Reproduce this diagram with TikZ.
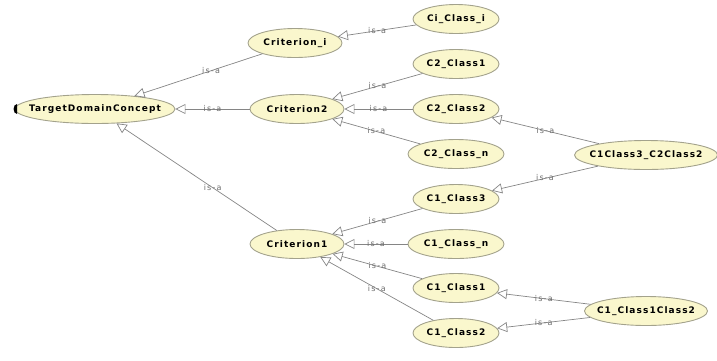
\documentclass[tikz,border=0pt]{standalone}
\usepackage{fontspec}
\setmainfont{DejaVu Sans}
\newfontfamily\owlfont[LetterSpace=12]{DejaVu Sans}
\newfontfamily\isafont[LetterSpace=15]{DejaVu Sans}
\usetikzlibrary{arrows.meta,shapes.geometric}
\definecolor{clsfill}{HTML}{FAF7CD}
\definecolor{clsline}{HTML}{A3A28C}
\definecolor{edgegray}{HTML}{858585}
\definecolor{labgray}{HTML}{6E6E6E}
\newcommand{\cname}[1]{\makebox[0pt]{\owlfont\bfseries #1}}

\begin{document}
\begin{tikzpicture}[x=1pt,y=-1pt,
  cls/.style={ellipse,draw=clsline,fill=clsfill,line width=0.9pt,inner sep=0pt,
    minimum height=29pt,minimum width=#1,font=\fontsize{9}{11}\selectfont},
  isa/.style={draw=edgegray,line width=0.7pt,-{Triangle[open,length=10pt,width=10pt]}},
  lab/.style={font=\fontsize{8}{10}\isafont,text=labgray,inner sep=1pt,
    anchor=south,yshift=-4pt}]
  \useasboundingbox (0,0) rectangle (717,360);

  % Wurzel
  \node[cls=160pt] (tdc) at (95,109) {\cname{TargetDomainConcept}};
  \fill ([xshift=2.5pt]tdc.west) ++(0pt,5pt) arc[start angle=90,end angle=270,x radius=3.5pt,y radius=5pt] -- cycle;

  % Kriterien
  \node[cls=94pt] (crit_i) at (295,43) {\cname{Criterion\_i}};
  \node[cls=94pt] (crit2) at (297,109) {\cname{Criterion2}};
  \node[cls=94pt] (crit1) at (297,244) {\cname{Criterion1}};

  % Klassen
  \node[cls=86pt] (ci_i) at (456,19) {\cname{Ci\_Class\_i}};
  \node[cls=86pt] (c2_1) at (456,64) {\cname{C2\_Class1}};
  \node[cls=86pt] (c2_2) at (456,109) {\cname{C2\_Class2}};
  \node[cls=96pt] (c2_n) at (456,154) {\cname{C2\_Class\_n}};
  \node[cls=86pt] (c1_3) at (456,199) {\cname{C1\_Class3}};
  \node[cls=96pt] (c1_n) at (456,244) {\cname{C1\_Class\_n}};
  \node[cls=86pt] (c1_1) at (456,288) {\cname{C1\_Class1}};
  \node[cls=86pt] (c1_2) at (456,333) {\cname{C1\_Class2}};

  % Schnittklassen
  \node[cls=143pt] (c13c22) at (646,155) {\cname{C1Class3\_C2Class2}};
  \node[cls=123pt] (c11c12) at (646,311) {\cname{C1\_Class1Class2}};

  % is-a Kanten
  \draw[isa] (crit_i) -- (tdc) node[lab,pos=.4] {is-a};
  \draw[isa] (crit2) -- (tdc) node[lab,midway] {is-a};
  \draw[isa] (crit1) -- (tdc) node[lab,pos=.4] {is-a};
  \draw[isa] (ci_i) -- (crit_i) node[lab,midway] {is-a};
  \draw[isa] (c2_1) -- (crit2) node[lab,midway] {is-a};
  \draw[isa] (c2_2) -- (crit2) node[lab,midway] {is-a};
  \draw[isa] (c2_n) -- (crit2) node[lab,midway] {is-a};
  \draw[isa] (c1_3) -- (crit1) node[lab,midway] {is-a};
  \draw[isa] (c1_n) -- (crit1) node[lab,midway] {is-a};
  \draw[isa] (c1_1) -- (crit1) node[lab,midway] {is-a};
  \draw[isa] (c1_2) -- (crit1) node[lab,midway] {is-a};
  \draw[isa] (c13c22) -- (c2_2) node[lab,midway] {is-a};
  \draw[isa] (c13c22) -- (c1_3) node[lab,midway] {is-a};
  \draw[isa] (c11c12) -- (c1_1) node[lab,midway] {is-a};
  \draw[isa] (c11c12) -- (c1_2) node[lab,midway] {is-a};
\end{tikzpicture}
\end{document}
